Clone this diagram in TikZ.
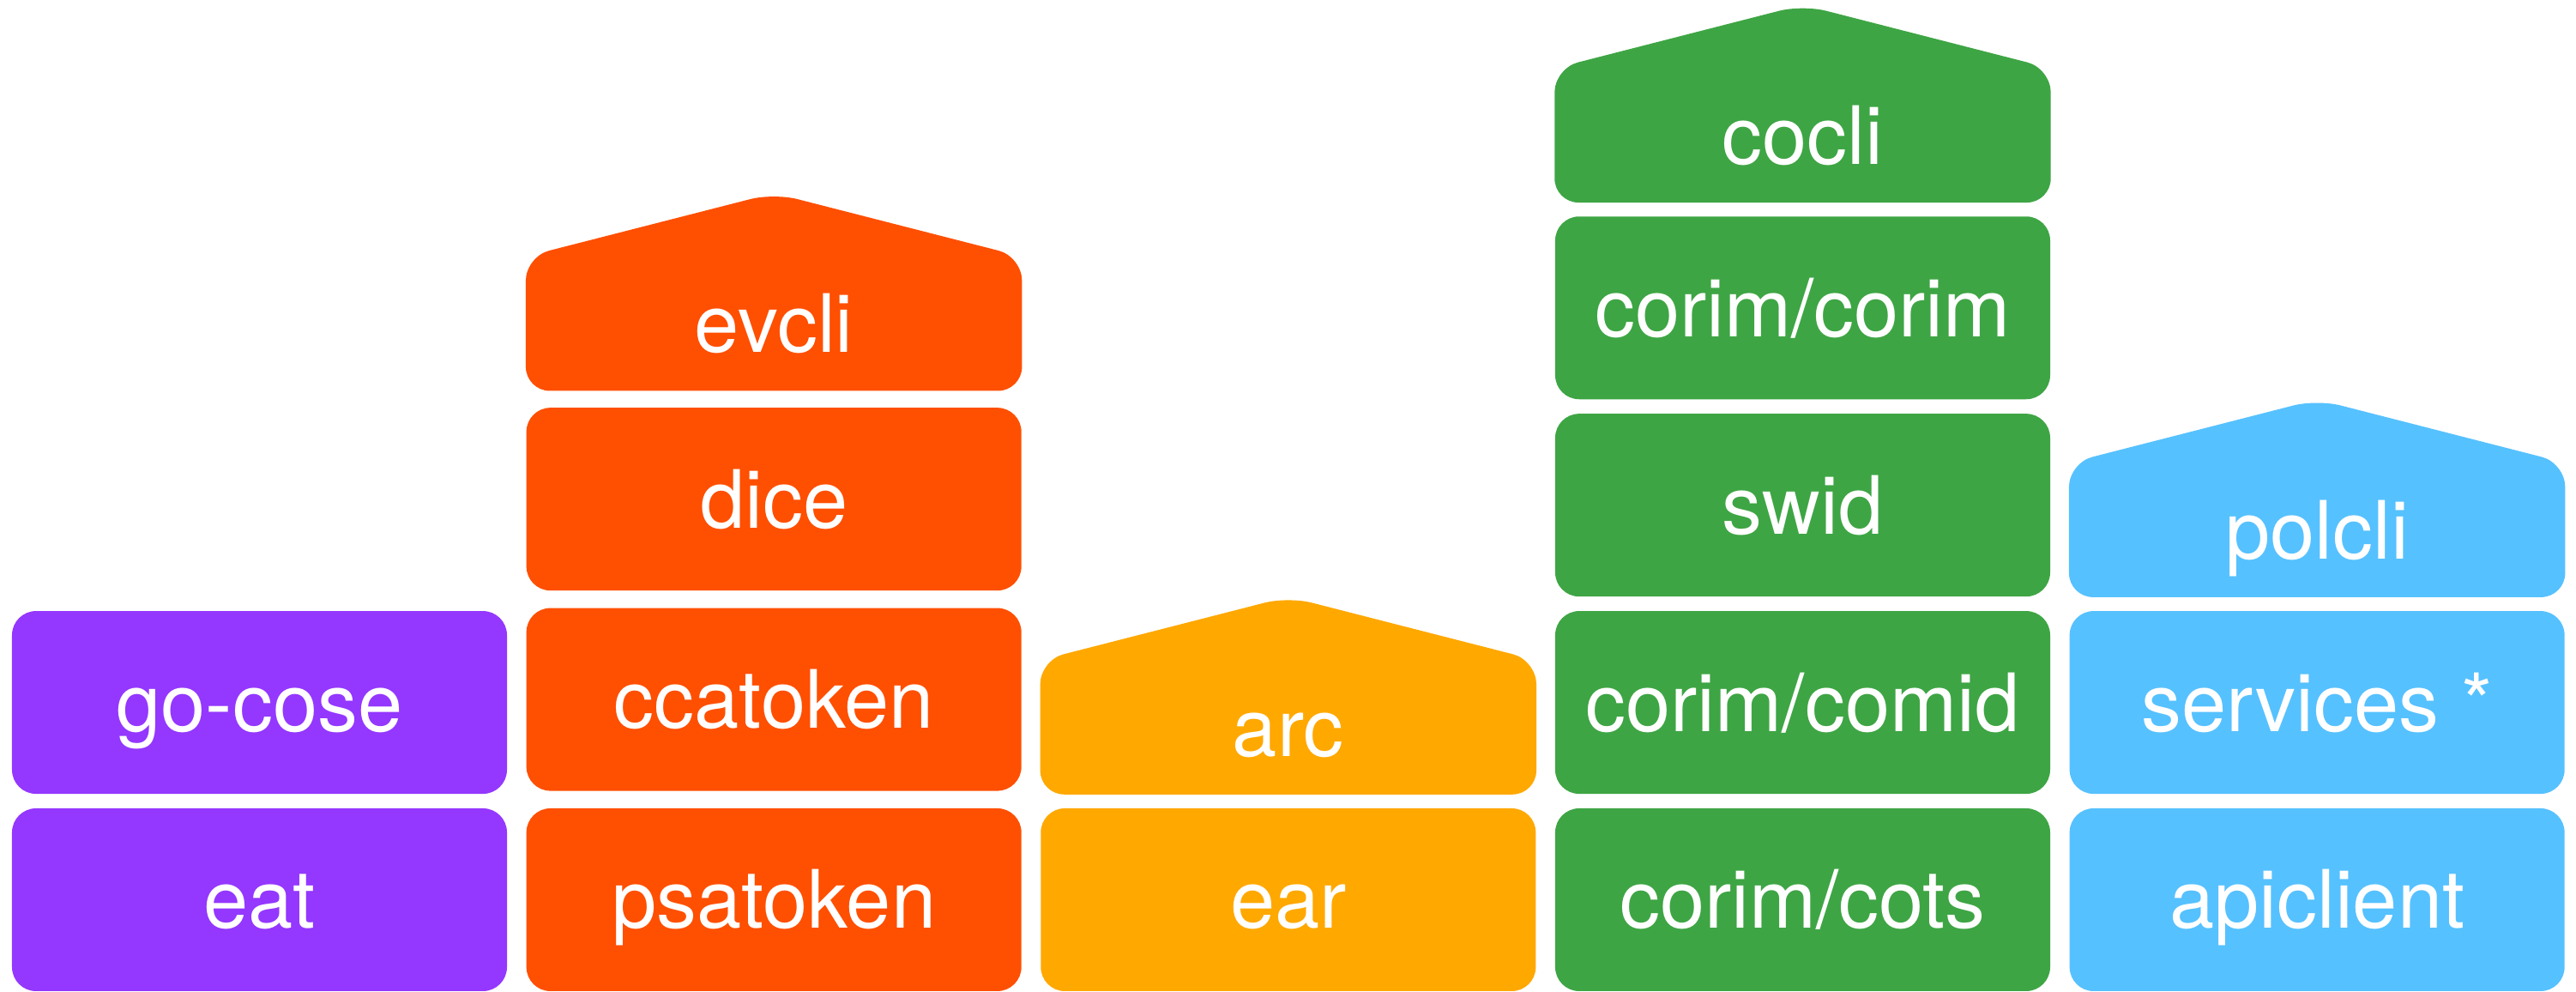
\documentclass[tikz,border=0pt]{standalone}
\usepackage{fontspec}
\setmainfont{TeX Gyre Heros}
\usetikzlibrary{positioning, backgrounds}
\definecolor{cpurple}{RGB}{148,55,255}
\definecolor{corange}{RGB}{255,79,0}
\definecolor{camber}{RGB}{255,168,0}
\definecolor{cgreen}{RGB}{62,165,68}
\definecolor{cblue}{RGB}{86,193,255}

\begin{document}
\begin{tikzpicture}[
		tile/.style={rounded corners=0.28cm, text=white, inner sep=0pt,
			minimum width=5.77cm, minimum height=2.13cm,
			text height=0.85cm, text depth=0.18cm,
			font=\fontsize{26.7}{32}\selectfont},
		roof/.style={tile, minimum height=1.55cm},
		node distance=0.155cm and 0.2125cm
	]
		\useasboundingbox (0,0) rectangle (30.03,11.56);
		% bottom row
		\node[tile, fill=cpurple] (eat) at (3.025,1.075) {eat};
		\node[tile, fill=corange, right=of eat] (psatoken) {psatoken};
		\node[tile, fill=camber, right=of psatoken] (ear) {ear};
		\node[tile, fill=cgreen, right=of ear] (cots) {corim/cots};
		\node[tile, fill=cblue, right=of cots] (apiclient) {apiclient};
		% stacks
		\node[tile, fill=cpurple, above=of eat] (gocose) {go-cose};
		\node[tile, fill=corange, above=0.19cm of psatoken] (ccatoken) {ccatoken};
		\node[tile, fill=corange, above=0.19cm of ccatoken] (dice) {dice};
		\node[roof, above=0.19cm of dice] (evcli) {evcli};
		\node[roof, above=of ear] (arc) {arc};
		\node[tile, fill=cgreen, above=of cots] (comid) {corim/comid};
		\node[tile, fill=cgreen, above=of comid] (swid) {swid};
		\node[tile, fill=cgreen, above=of swid] (corim) {corim/corim};
		\node[roof, above=of corim] (cocli) {cocli};
		\node[tile, fill=cblue, above=of apiclient] (services) {services *};
		\node[roof, above=of services] (polcli) {polcli};
		% house tops behind the cli nodes
		\begin{scope}[on background layer]
			\foreach \n/\c in {evcli/corange, arc/camber, cocli/cgreen, polcli/cblue}
				\fill[\c, rounded corners=0.28cm] (\n.south west) -- (\n.north west)
					-- ([yshift=0.74cm]\n.north) -- (\n.north east) -- (\n.south east) -- cycle;
		\end{scope}
	\end{tikzpicture}
\end{document}
